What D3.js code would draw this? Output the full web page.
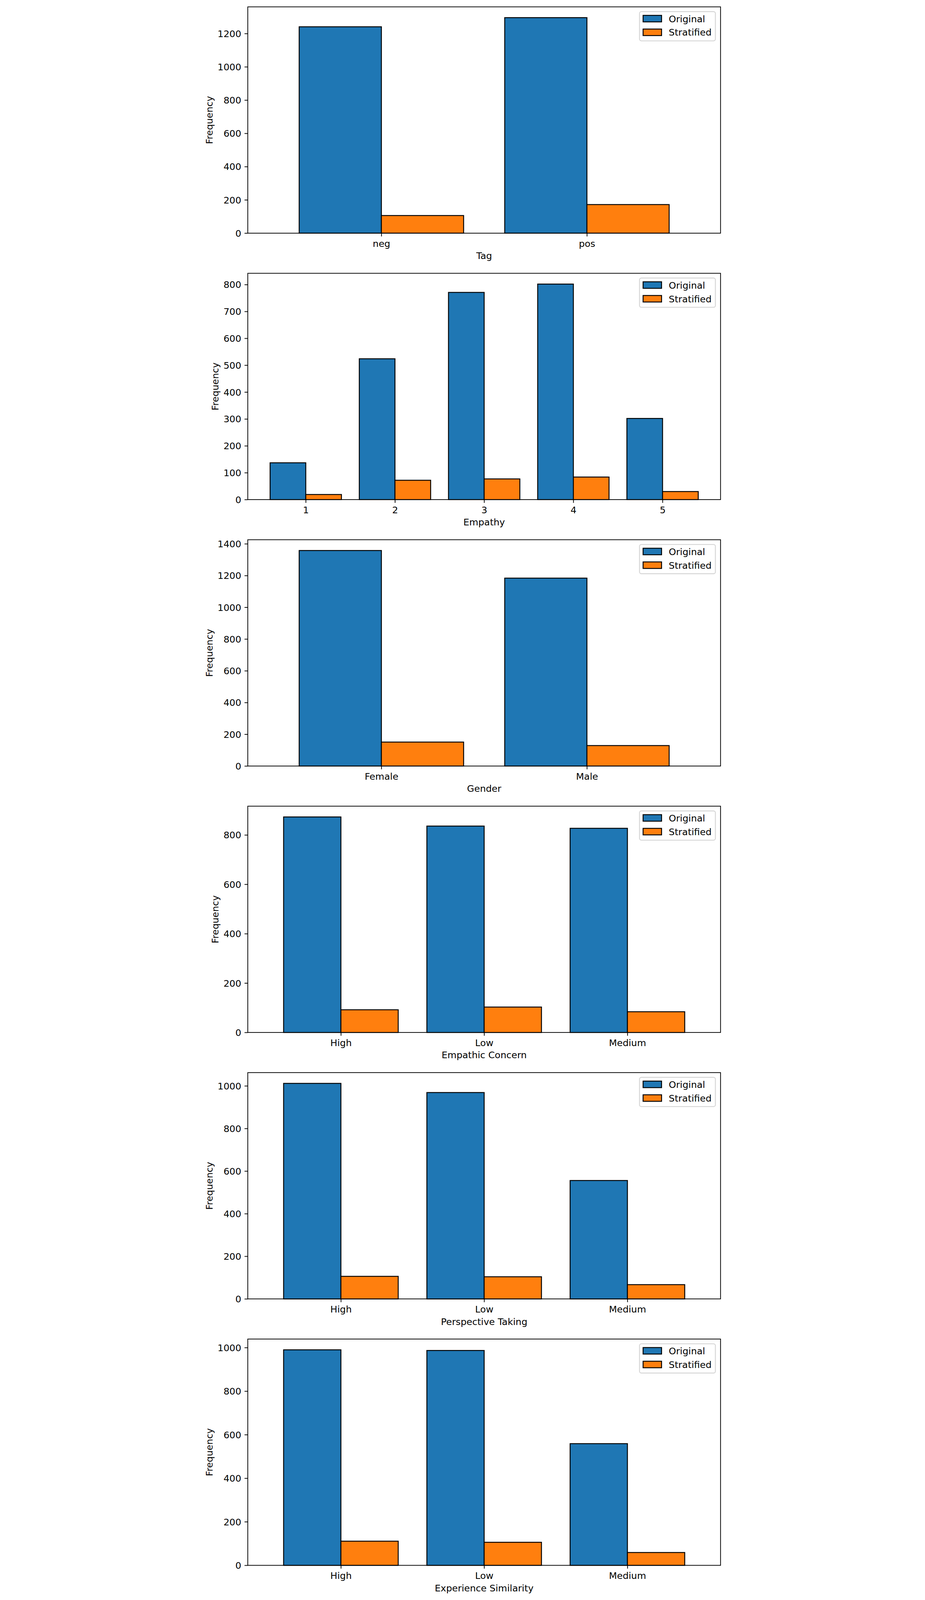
<!DOCTYPE html>
<html><head><meta charset="utf-8">
<script src="https://cdn.jsdelivr.net/npm/d3@7"></script>
<style>html,body{margin:0;padding:0;background:#fff;overflow:hidden}
svg{display:block}</style>
</head><body>
<svg id="c" viewBox="0 0 2367 7166" preserveAspectRatio="xMidYMin meet"></svg>
<script>
// ---- data ----
const tagCategories = ["neg", "pos"];
const tagOriginal = [1241, 1296];
const tagStratified = [106, 172];
const tagTicks = [0, 200, 400, 600, 800, 1000, 1200];

const empathyCategories = ["1", "2", "3", "4", "5"];
const empathyOriginal = [137, 524, 771, 802, 302];
const empathyStratified = [19, 72, 77, 84, 30];
const empathyTicks = [0, 100, 200, 300, 400, 500, 600, 700, 800];

const genderCategories = ["Female", "Male"];
const genderOriginal = [1358, 1184];
const genderStratified = [151, 129];
const genderTicks = [0, 200, 400, 600, 800, 1000, 1200, 1400];

const concernCategories = ["High", "Low", "Medium"];
const concernOriginal = [873, 836, 827];
const concernStratified = [92, 103, 84];
const concernTicks = [0, 200, 400, 600, 800];

const perspectiveCategories = ["High", "Low", "Medium"];
const perspectiveOriginal = [1012, 969, 556];
const perspectiveStratified = [106, 104, 67];
const perspectiveTicks = [0, 200, 400, 600, 800, 1000];

const experienceCategories = ["High", "Low", "Medium"];
const experienceOriginal = [990, 987, 559];
const experienceStratified = [111, 106, 59];
const experienceTicks = [0, 200, 400, 600, 800, 1000];

const seriesNames = ["Original", "Stratified"];
const seriesColors = ["#1f77b4", "#ff7f0e"];

const panels = [
  {xlabel: "Tag", categories: tagCategories, original: tagOriginal, stratified: tagStratified, ticks: tagTicks},
  {xlabel: "Empathy", categories: empathyCategories, original: empathyOriginal, stratified: empathyStratified, ticks: empathyTicks},
  {xlabel: "Gender", categories: genderCategories, original: genderOriginal, stratified: genderStratified, ticks: genderTicks},
  {xlabel: "Empathic Concern", categories: concernCategories, original: concernOriginal, stratified: concernStratified, ticks: concernTicks},
  {xlabel: "Perspective Taking", categories: perspectiveCategories, original: perspectiveOriginal, stratified: perspectiveStratified, ticks: perspectiveTicks},
  {xlabel: "Experience Similarity", categories: experienceCategories, original: experienceOriginal, stratified: experienceStratified, ticks: experienceTicks}
];

// ---- layout ----
const W = 2367, H = 7166;
const left = 222.3, right = 2338.7, top0 = 30.7, axH = 1013.6, pitch = 1193.3;
const fs = 41.67, tickLen = 14.6, pad = 14.6, spineW = 3.33, barStroke = 4.17;
const font = "DejaVu Sans";

// fit the whole figure into whatever viewport the page gets
const vw = window.innerWidth || W, vh = window.innerHeight || H;
const svg = d3.select("#c").attr("width", vw).attr("height", vh);
svg.append("rect").attr("width", W).attr("height", H).attr("fill", "#fff");

panels.forEach((p, k) => {
  const top = top0 + k * pitch, bottom = top + axH;
  const n = p.categories.length;
  const x = d3.scaleLinear().domain([-0.65, n - 1 + 0.65]).range([left, right]);
  const maxV = d3.max([...p.original, ...p.stratified]);
  const y = d3.scaleLinear().domain([0, maxV * 1.05]).range([bottom, top]);
  const g = svg.append("g");

  // bars
  [p.original, p.stratified].forEach((vals, s) => {
    const off = s === 0 ? -0.4 : 0;
    g.append("g").selectAll("rect").data(vals).join("rect")
      .attr("x", (d, i) => x(i + off))
      .attr("width", (d, i) => x(i + off + 0.4) - x(i + off))
      .attr("y", d => y(d))
      .attr("height", d => y(0) - y(d))
      .attr("fill", seriesColors[s])
      .attr("stroke", "#000")
      .attr("stroke-width", barStroke);
  });

  // y axis
  const ya = g.append("g").attr("transform", `translate(${left},0)`)
    .call(d3.axisLeft(y).tickValues(p.ticks).tickSize(tickLen).tickPadding(pad).tickFormat(d3.format("d")));
  ya.select(".domain").remove();
  ya.attr("font-family", font).attr("font-size", fs);
  ya.selectAll("line").attr("stroke", "#000").attr("stroke-width", spineW);
  ya.selectAll("text").attr("fill", "#000").attr("dy", "0.36em");

  // x axis
  const xa = g.append("g").attr("transform", `translate(0,${bottom})`)
    .call(d3.axisBottom(x).tickValues(d3.range(n)).tickSize(tickLen).tickFormat(i => p.categories[i]));
  xa.select(".domain").remove();
  xa.attr("font-family", font).attr("font-size", fs);
  xa.selectAll("line").attr("stroke", "#000").attr("stroke-width", spineW);
  xa.selectAll("text").attr("fill", "#000").attr("y", 61).attr("dy", null);

  // spines
  g.append("rect").attr("x", left).attr("y", top).attr("width", right - left).attr("height", axH)
    .attr("fill", "none").attr("stroke", "#000").attr("stroke-width", spineW);

  // axis labels
  g.append("text").attr("x", (left + right) / 2).attr("y", bottom + 116)
    .attr("text-anchor", "middle").attr("font-family", font).attr("font-size", fs).attr("fill", "#000")
    .text(p.xlabel);
  let minX = Infinity;
  ya.selectAll("text").each(function () { const b = this.getBBox(); minX = Math.min(minX, b.x); });
  const lblX = left + minX - 22;
  g.append("text").attr("transform", `translate(${lblX},${(top + bottom) / 2}) rotate(-90)`)
    .attr("text-anchor", "middle").attr("font-family", font).attr("font-size", fs).attr("fill", "#000")
    .text("Frequency");

  // legend
  const lg = g.append("g");
  lg.append("rect").attr("x", right - 362.7).attr("y", top + 21.3).attr("width", 339.7).attr("height", 131)
    .attr("rx", 8.3).attr("ry", 8.3).attr("fill", "#fff").attr("fill-opacity", 0.8)
    .attr("stroke", "#d6d6d6").attr("stroke-width", 4.17);
  const rowY = [38.1, 99.4];
  const textY = [68.6, 129.3];
  seriesNames.forEach((name, s) => {
    lg.append("rect").attr("x", right - 346.7).attr("y", top + rowY[s]).attr("width", 82.7).attr("height", 29.2)
      .attr("fill", seriesColors[s]).attr("stroke", "#000").attr("stroke-width", barStroke);
    lg.append("text").attr("x", right - 231.7).attr("y", top + textY[s])
      .attr("font-family", font).attr("font-size", fs).attr("fill", "#000").text(name);
  });
});
</script>
</body></html>
